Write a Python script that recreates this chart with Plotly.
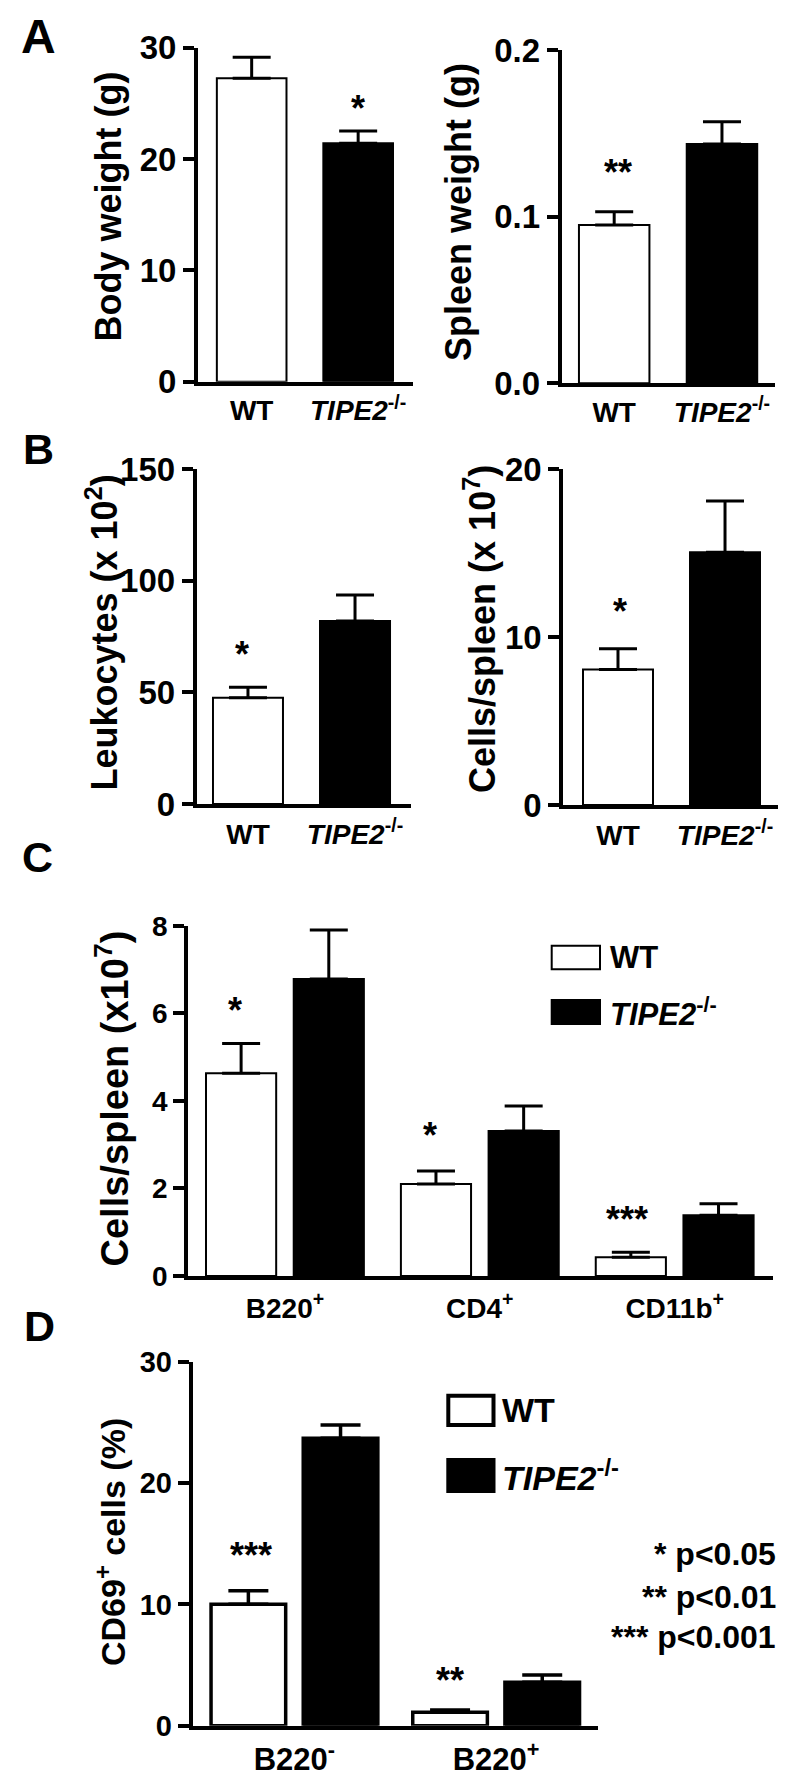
import plotly.graph_objects as go

FONT = "Arial, 'Liberation Sans', Helvetica, sans-serif"
W, H = 800, 1786

# ---------------- data ----------------
genotypes = ["WT", "<i>TIPE2</i><sup>-/-</sup>"]
genotype_colors = ["white", "black"]

body_weight = [27.25, 21.41]
body_weight_sem = [1.89, 1.11]
spleen_weight = [0.095, 0.1436]
spleen_weight_sem = [0.008, 0.0134]
leukocytes = [47.6, 82.0]
leukocytes_sem = [4.7, 11.7]
cells_per_spleen = [8.08, 15.06]
cells_per_spleen_sem = [1.23, 3.05]

subsets_C = ["B220<sup>+</sup>", "CD4<sup>+</sup>", "CD11b<sup>+</sup>"]
c_wt = [4.63, 2.10, 0.43]
c_wt_sem = [0.68, 0.30, 0.11]
c_ko = [6.78, 3.31, 1.39]
c_ko_sem = [1.12, 0.57, 0.26]

subsets_D = ["B220<sup>-</sup>", "B220<sup>+</sup>"]
d_wt = [10.0, 1.10]
d_wt_sem = [1.12, 0.19]
d_ko = [23.69, 3.58]
d_ko_sem = [1.10, 0.60]

y_titles = ["Body weight (g)", "Spleen weight (g)", "Leukocytes (x 10<sup>2</sup>)",
            "Cells/spleen (x 10<sup>7</sup>)", "Cells/spleen (x10<sup>7</sup>)",
            "CD69<sup>+</sup> cells (%)"]
panel_letters = ["A", "B", "C", "D"]
p_legend = ["* p<0.05", "** p<0.01", "*** p<0.001"]

# significance marks: (axis index, category, y value, text, xshift px)
stars = [
    (1, genotypes[1], 24.9, "*", 0),
    (2, genotypes[0], 0.129, "**", 4),
    (3, genotypes[0], 69.0, "*", -6),
    (4, genotypes[0], 11.74, "*", 2),
    (5, subsets_C[0], 6.15, "*", -50),
    (5, subsets_C[1], 3.29, "*", -50),
    (5, subsets_C[2], 1.39, "***", -48),
    (6, subsets_D[0], 14.34, "***", -43),
    (6, subsets_D[1], 4.04, "**", -46),
]


def px_x(p):
    return p / W


def px_y(p):
    return 1 - p / H


def bfont(size):
    return dict(family=FONT, size=size, color="black", weight="bold")


def ax(i):
    return ("x" if i == 1 else f"x{i}"), ("y" if i == 1 else f"y{i}")


def err(arr, thick=3, width=19):
    return dict(type="data", array=arr, arrayminus=[0] * len(arr), symmetric=False,
                color="black", thickness=thick, width=width, visible=True)


fig = go.Figure()

single = [(body_weight, body_weight_sem), (spleen_weight, spleen_weight_sem),
          (leukocytes, leukocytes_sem), (cells_per_spleen, cells_per_spleen_sem)]
for i, (vals, sems) in enumerate(single, start=1):
    xa, ya = ax(i)
    fig.add_trace(go.Bar(x=genotypes, y=vals, width=0.654,
                         marker=dict(color=genotype_colors, line=dict(color="black", width=2)),
                         error_y=err(sems), xaxis=xa, yaxis=ya, showlegend=False))

xa, ya = ax(5)
fig.add_trace(go.Bar(x=subsets_C, y=c_wt, width=0.36, offset=-0.405,
                     marker=dict(color="white", line=dict(color="black", width=2)),
                     error_y=err(c_wt_sem), xaxis=xa, yaxis=ya, showlegend=False))
fig.add_trace(go.Bar(x=subsets_C, y=c_ko, width=0.36, offset=0.045,
                     marker=dict(color="black", line=dict(color="black", width=2)),
                     error_y=err(c_ko_sem), xaxis=xa, yaxis=ya, showlegend=False))

xa, ya = ax(6)
fig.add_trace(go.Bar(x=subsets_D, y=d_wt, width=0.37, offset=-0.413,
                     marker=dict(color="white", line=dict(color="black", width=3.5)),
                     error_y=err(d_wt_sem, 3.5, 20), xaxis=xa, yaxis=ya, showlegend=False))
fig.add_trace(go.Bar(x=subsets_D, y=d_ko, width=0.37, offset=0.044,
                     marker=dict(color="black", line=dict(color="black", width=3.5)),
                     error_y=err(d_ko_sem, 3.5, 20), xaxis=xa, yaxis=ya, showlegend=False))

# panel geometry (pixels) and axes
panels = [
    dict(xd=(198, 413), yd=(47.7, 381.7), xr=[-0.504, 1.515], yr=[0, 30], tv=[0, 10, 20, 30],
         tf=None, cats=genotypes, yts=33, xls=28, xll=1),
    dict(xd=(561.7, 775), yd=(50, 383.3), xr=[-0.487, 1.492], yr=[0, 0.2], tv=[0, 0.1, 0.2],
         tf=".1f", cats=genotypes, yts=33, xls=28, xll=1),
    dict(xd=(196.7, 411), yd=(469.3, 804), xr=[-0.479, 1.523], yr=[0, 150], tv=[0, 50, 100, 150],
         tf=None, cats=genotypes, yts=33, xls=28, xll=2),
    dict(xd=(563.3, 778), yd=(469.3, 805), xr=[-0.511, 1.495], yr=[0, 20], tv=[0, 10, 20],
         tf=None, cats=genotypes, yts=33, xls=28, xll=2),
    dict(xd=(188.3, 772.7), yd=(925.7, 1276), xr=[-0.496, 2.503], yr=[0, 8], tv=[0, 2, 4, 6, 8],
         tf=None, cats=subsets_C, yts=28, xls=28, xll=4),
    dict(xd=(192.7, 598.3), yd=(1361.7, 1725.7), xr=[-0.504, 1.507], yr=[0, 30], tv=[0, 10, 20, 30],
         tf=None, cats=subsets_D, yts=29, xls=31, xll=3),
]

layout = dict(width=W, height=H, autosize=False, margin=dict(l=0, r=0, t=0, b=0, pad=0),
              paper_bgcolor="white", plot_bgcolor="white", barmode="overlay",
              font=dict(family=FONT, color="black"), showlegend=False)
for i, p in enumerate(panels, start=1):
    xk = "xaxis" if i == 1 else f"xaxis{i}"
    yk = "yaxis" if i == 1 else f"yaxis{i}"
    xa, ya = ax(i)
    layout[xk] = dict(domain=[px_x(p["xd"][0]), px_x(p["xd"][1])], anchor=ya, type="category",
                      categoryorder="array", categoryarray=p["cats"], range=p["xr"],
                      showline=True, linewidth=4, linecolor="black", showgrid=False, zeroline=False,
                      ticks="outside", ticklen=max(p["xll"], 0.01), tickcolor="rgba(0,0,0,0)",
                      tickfont=bfont(p["xls"]), fixedrange=True, automargin=False)
    yd = dict(domain=[px_y(p["yd"][1]), px_y(p["yd"][0])], anchor=xa, range=p["yr"],
              tickvals=p["tv"], showline=True, linewidth=4, linecolor="black",
              showgrid=False, zeroline=False, ticks="outside", ticklen=11, tickwidth=4,
              tickcolor="black", tickfont=bfont(p["yts"]), fixedrange=True, automargin=False)
    if p["tf"]:
        yd["tickformat"] = p["tf"]
    layout[yk] = yd

annotations = []
# panel letters
for letter, (cx, cy, fs) in zip(panel_letters, [(38, 36.5, 48), (38, 449, 43), (37, 857, 43), (39, 1326, 43)]):
    annotations.append(dict(text=letter, x=px_x(cx), y=px_y(cy), xref="paper", yref="paper",
                            showarrow=False, xanchor="center", yanchor="middle", font=bfont(fs)))
# y titles
for t, (cx, cy, fs) in zip(y_titles, [(108, 206.5, 36), (458, 212, 36), (102, 632.5, 36),
                                      (480, 629, 36), (112, 1098.5, 38), (110, 1542, 34)]):
    annotations.append(dict(text=t, x=px_x(cx), y=px_y(cy), xref="paper", yref="paper",
                            showarrow=False, textangle=-90, xanchor="center", yanchor="middle",
                            font=bfont(fs)))
# significance stars
for (i, cat, yv, txt, xs) in stars:
    xa, ya = ax(i)
    annotations.append(dict(text=txt, x=cat, y=yv, xref=xa, yref=ya, showarrow=False,
                            xanchor="center", yanchor="middle", xshift=xs, yshift=-4,
                            font=bfont(36)))
# p-value key
for t, cy in zip(p_legend, [1554, 1597, 1637]):
    annotations.append(dict(text=t, x=px_x(778), y=px_y(cy), xref="paper", yref="paper",
                            showarrow=False, xanchor="right", yanchor="middle", font=bfont(32)))

# legends (drawn boxes + labels)
shapes = []
legend_specs = [
    # (box x0,x1, WT box y0,y1, KO box y0,y1, line width, text x, WT y, KO y, font)
    (551.7, 600, 945.7, 969.3, 1000, 1024, 2, 608, 957, 1012, 31),
    (448.3, 493.5, 1395.7, 1425, 1460, 1491, 4, 500, 1410, 1475, 34),
]
for (bx0, bx1, wy0, wy1, ky0, ky1, lw, tx, wy, ky, fs) in legend_specs:
    shapes.append(dict(type="rect", xref="paper", yref="paper", x0=px_x(bx0), x1=px_x(bx1),
                       y0=px_y(wy1), y1=px_y(wy0), fillcolor="white",
                       line=dict(color="black", width=lw)))
    shapes.append(dict(type="rect", xref="paper", yref="paper", x0=px_x(bx0), x1=px_x(bx1),
                       y0=px_y(ky1), y1=px_y(ky0), fillcolor="black",
                       line=dict(color="black", width=lw)))
    annotations.append(dict(text=genotypes[0], x=px_x(tx), y=px_y(wy), xref="paper", yref="paper",
                            showarrow=False, xanchor="left", yanchor="middle", font=bfont(fs)))
    annotations.append(dict(text=genotypes[1], x=px_x(tx), y=px_y(ky), xref="paper", yref="paper",
                            showarrow=False, xanchor="left", yanchor="middle", font=bfont(fs)))

layout["annotations"] = annotations
layout["shapes"] = shapes
fig.update_layout(**layout)
fig.write_html("out.html", config={"displayModeBar": False, "staticPlot": True},
               post_script="document.body.style.margin='0px';")
